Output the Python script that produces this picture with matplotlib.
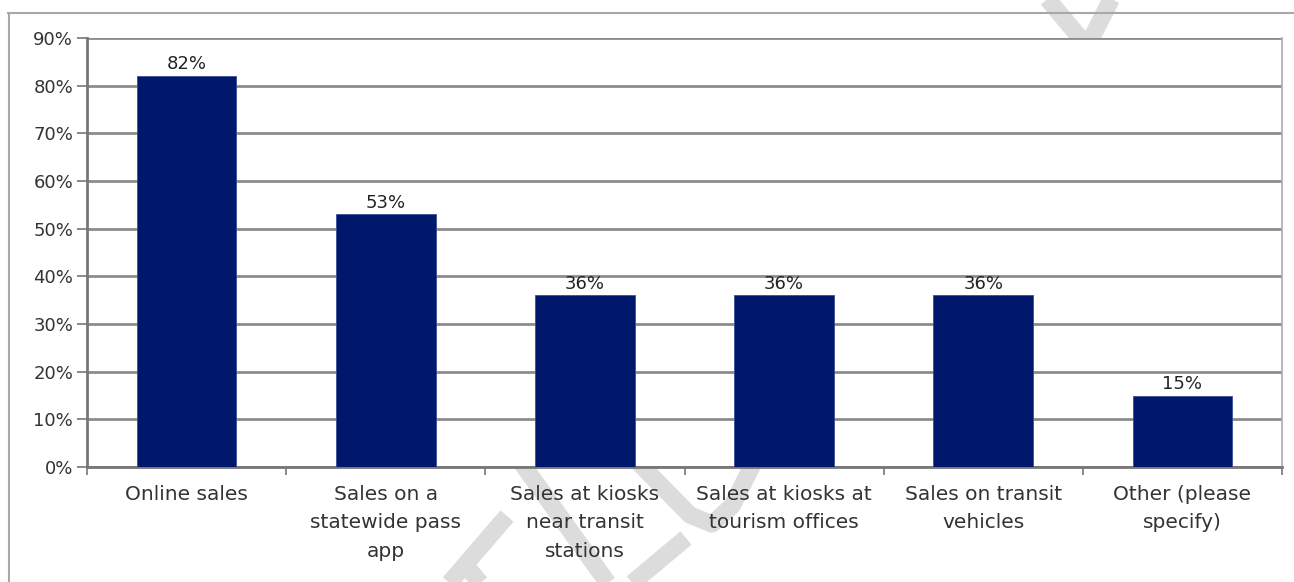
import matplotlib.pyplot as plt
from matplotlib.lines import Line2D
from matplotlib.ticker import FixedLocator, PercentFormatter

# sales channels and share of responses (%)
categories = ['Online sales', 'Sales on a\nstatewide pass\napp', 'Sales at kiosks\nnear transit\nstations',
              'Sales at kiosks at\ntourism offices', 'Sales on transit\nvehicles', 'Other (please\nspecify)']
values = [82, 53, 36, 36, 36, 15]
y_ticks = [0, 10, 20, 30, 40, 50, 60, 70, 80, 90]

plt.rcParams['font.family'] = ['DejaVu Sans']

W, H = 1294, 582
fig = plt.figure(figsize=(W / 100, H / 100), dpi=100)
fig.patch.set_facecolor('white')


def px(xs, ys):
    # pixel coordinates (origin top-left) -> figure fraction
    return [x / W for x in xs], [1 - y / H for y in ys]


# watermark strokes, partly hidden behind the plot area
strokes = [
    ([507, 440], [516, 594]),
    ([466, 497], [566, 602]),
    ([505, 620], [440, 600]),
    ([686, 612], [538, 600]),
    ([628, 690, 712, 732, 756], [452, 515, 524, 506, 458]),
    ([1040, 1086], [-10, 45]),
    ([1116, 1088], [-10, 45]),
]
for xs, ys in strokes:
    fx, fy = px(xs, ys)
    fig.add_artist(Line2D(fx, fy, color='#dcdcdc', lw=12.5, solid_capstyle='butt',
                          solid_joinstyle='round', zorder=0))

# outer frame lines
fx, fy = px([8, W], [13, 13])
fig.add_artist(Line2D(fx, fy, color='#a8a8a8', lw=1.5, zorder=1))
fx, fy = px([9, 9], [13, H])
fig.add_artist(Line2D(fx, fy, color='#a8a8a8', lw=1.5, zorder=1))

ax = fig.add_axes([87 / W, 1 - 467 / H, (1282 - 87) / W, (467 - 38) / H])
ax.set_facecolor('white')
ax.set_zorder(2)

x = range(len(categories))
bars = ax.bar(x, values, width=0.5, color='#00186b', edgecolor='#3a4f9a', linewidth=0.6, zorder=3)

for b, v in zip(bars, values):
    ax.annotate(f'{v}%', (b.get_x() + b.get_width() / 2, v), xytext=(0, 2),
                textcoords='offset points', ha='center', va='bottom',
                fontsize=13, color='#222222', zorder=4)

ax.set_xlim(-0.5, len(categories) - 0.5)
ax.set_ylim(0, 90)
ax.set_yticks(y_ticks)
ax.yaxis.set_major_formatter(PercentFormatter(decimals=0))
ax.yaxis.grid(True, color='#8c8c8c', lw=2, zorder=1)
ax.set_axisbelow(True)

# category labels at centres, tick marks at category boundaries
ax.set_xticks(list(x))
ax.set_xticklabels(categories, fontsize=14.5, color='#333333', linespacing=1.62)
ax.tick_params(axis='x', which='major', length=0, pad=13)
ax.xaxis.set_minor_locator(FixedLocator([i - 0.5 for i in range(len(categories) + 1)]))
ax.tick_params(axis='x', which='minor', length=6, width=1.2, color='#777777')
ax.tick_params(axis='y', length=7, width=1.2, color='#777777', labelsize=13,
               labelcolor='#333333', pad=3)

for side in ['left', 'bottom']:
    ax.spines[side].set_color('#777777')
    ax.spines[side].set_linewidth(2)
ax.spines['right'].set_color('#aaaaaa')
ax.spines['right'].set_linewidth(1.2)
ax.spines['top'].set_visible(False)

fig.savefig('out.png', dpi=100)
